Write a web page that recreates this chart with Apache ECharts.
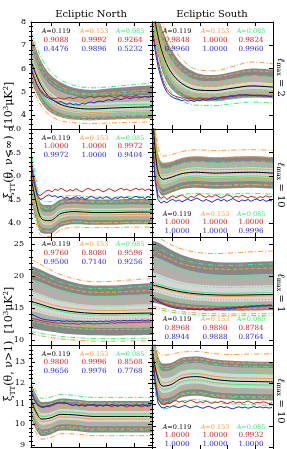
<!DOCTYPE html>
<html><head><meta charset="utf-8">
<script src="https://cdn.jsdelivr.net/npm/echarts@6/dist/echarts.min.js"></script>
<style>html,body{margin:0;padding:0;background:#fff}#c{width:287px;height:449px}</style>
</head><body><div id="c"></div>
<script>
// x sample positions (angular coordinate, arbitrary units across each panel)
const xs = [0, 5, 11, 19, 30, 45, 62, 80, 100, 121];
const xn = [0,3,6,9,12,15,18,21,24,27,30,33,36,39,42,45,48,51,54,57,60,63,66,69,72,75,78,81,84,87,90,93,96,99,102,105,108,111,114,117,120];
const xTickVals = [20, 48, 75, 103];

// y tick labels per row
const yTicks1 = [4, 5, 6, 7, 8];
const yTicks2 = [4.0, 4.5, 5.0, 5.5, 6.0];
const yTicks3 = [10, 15, 20, 25];
const yTicks4 = [9, 10, 11, 12, 13];

const aLabels = ['A=0.119', 'A=0.153', 'A=0.085'];

// ---- Row 1 : nu<inf, lmax=2 ----
// rows: +3s, +2s, +1s, mean, -1s, -2s, -3s
const n1Gray = [
 [7.45, 6.85, 6.25, 5.75, 5.4, 5.15, 5.08, 5.15, 5.22, 5.28],
 [6.95, 6.35, 5.75, 5.3, 5.0, 4.82, 4.76, 4.8, 4.84, 4.87],
 [6.6, 6.02, 5.45, 5.0, 4.7, 4.55, 4.5, 4.54, 4.57, 4.6],
 [6.3, 5.75, 5.2, 4.75, 4.45, 4.3, 4.26, 4.3, 4.33, 4.35],
 [6.0, 5.48, 4.95, 4.52, 4.24, 4.1, 4.07, 4.1, 4.13, 4.15],
 [5.75, 5.25, 4.75, 4.35, 4.08, 3.96, 3.93, 3.96, 3.99, 4.0],
 [5.45, 4.98, 4.5, 4.13, 3.9, 3.8, 3.78, 3.81, 3.84, 3.86]];
const n1Orange = [
 [7.3, 6.7, 6.1, 5.6, 5.22, 4.98, 4.92, 4.97, 5.03, 5.08],
 [6.8, 6.2, 5.6, 5.14, 4.84, 4.66, 4.6, 4.64, 4.68, 4.7],
 [6.45, 5.88, 5.3, 4.85, 4.55, 4.4, 4.35, 4.38, 4.41, 4.43],
 [6.15, 5.6, 5.05, 4.6, 4.3, 4.15, 4.11, 4.14, 4.17, 4.19],
 [5.85, 5.33, 4.8, 4.38, 4.1, 3.96, 3.93, 3.96, 3.98, 4.0],
 [5.6, 5.1, 4.6, 4.2, 3.94, 3.82, 3.8, 3.82, 3.85, 3.86],
 [5.3, 4.82, 4.35, 3.98, 3.75, 3.66, 3.64, 3.66, 3.68, 3.7]];
const n1Green = [
 [7.6, 7.0, 6.4, 5.9, 5.5, 5.25, 5.17, 5.22, 5.3, 5.38],
 [7.1, 6.5, 5.9, 5.42, 5.1, 4.92, 4.86, 4.9, 4.95, 4.98],
 [6.75, 6.17, 5.58, 5.12, 4.82, 4.66, 4.62, 4.65, 4.68, 4.7],
 [6.45, 5.88, 5.32, 4.88, 4.58, 4.42, 4.38, 4.42, 4.45, 4.47],
 [6.15, 5.6, 5.07, 4.64, 4.36, 4.22, 4.19, 4.22, 4.25, 4.27],
 [5.9, 5.38, 4.87, 4.47, 4.2, 4.07, 4.04, 4.07, 4.1, 4.12],
 [5.6, 5.1, 4.62, 4.25, 4.02, 3.91, 3.89, 3.92, 3.95, 3.97]];
const n1Red = [5.95,5.6,5.3,5.1,4.95,4.85,4.78,4.72,4.7,4.74,4.71,4.68,4.73,4.76,4.7,4.74,4.79,4.75,4.72,4.77,4.8,4.74,4.78,4.82,4.76,4.79,4.83,4.78,4.74,4.8,4.84,4.79,4.82,4.77,4.8,4.85,4.8,4.76,4.81,4.79,4.82];
const n1Blue = [6.07,5.65,5.3,5.05,4.88,4.78,4.72,4.66,4.6,4.55,4.58,4.5,4.46,4.52,4.45,4.48,4.43,4.5,4.47,4.53,4.56,4.52,4.58,4.6,4.57,4.63,4.66,4.62,4.68,4.7,4.66,4.72,4.75,4.7,4.74,4.78,4.73,4.77,4.8,4.76,4.79];
const n1RedTxt = ['0.9088', '0.9992', '0.9264'];
const n1BlueTxt = ['0.4476', '0.9896', '0.5232'];

const s1Gray = [
 [9.6, 8.5, 7.6, 6.85, 6.2, 5.8, 5.72, 5.85, 6.0, 5.95],
 [9.3, 8.1, 7.15, 6.4, 5.85, 5.5, 5.45, 5.56, 5.68, 5.63],
 [9.1, 7.85, 6.85, 6.1, 5.58, 5.28, 5.24, 5.35, 5.45, 5.4],
 [8.9, 7.6, 6.6, 5.85, 5.35, 5.08, 5.05, 5.15, 5.25, 5.2],
 [8.7, 7.35, 6.35, 5.6, 5.14, 4.9, 4.88, 4.97, 5.07, 5.02],
 [8.5, 7.1, 6.1, 5.4, 4.97, 4.76, 4.75, 4.84, 4.92, 4.88],
 [8.2, 6.8, 5.8, 5.15, 4.78, 4.6, 4.6, 4.68, 4.75, 4.72]];
const s1Orange = [
 [9.9, 8.8, 7.9, 7.1, 6.4, 5.95, 5.9, 6.08, 6.28, 6.2],
 [9.5, 8.35, 7.4, 6.6, 6.02, 5.66, 5.62, 5.76, 5.9, 5.85],
 [9.3, 8.05, 7.05, 6.3, 5.78, 5.46, 5.43, 5.55, 5.67, 5.62],
 [9.1, 7.8, 6.8, 6.05, 5.55, 5.27, 5.24, 5.35, 5.45, 5.4],
 [8.9, 7.55, 6.55, 5.8, 5.33, 5.08, 5.06, 5.16, 5.26, 5.2],
 [8.7, 7.3, 6.3, 5.58, 5.14, 4.92, 4.9, 5.0, 5.09, 5.04],
 [8.4, 7.0, 6.0, 5.33, 4.94, 4.75, 4.74, 4.83, 4.92, 4.87]];
const s1Green = [
 [9.3, 8.2, 7.25, 6.5, 5.9, 5.5, 5.43, 5.55, 5.7, 5.65],
 [9.0, 7.85, 6.9, 6.15, 5.62, 5.28, 5.22, 5.33, 5.45, 5.4],
 [8.85, 7.6, 6.62, 5.9, 5.4, 5.1, 5.06, 5.16, 5.26, 5.21],
 [8.7, 7.4, 6.4, 5.68, 5.2, 4.93, 4.9, 5.0, 5.1, 5.05],
 [8.5, 7.18, 6.18, 5.46, 5.0, 4.77, 4.75, 4.84, 4.93, 4.88],
 [8.3, 6.95, 5.95, 5.25, 4.83, 4.62, 4.61, 4.7, 4.78, 4.74],
 [8.0, 6.65, 5.65, 5.0, 4.6, 4.42, 4.4, 4.48, 4.56, 4.52]];
const s1Red = [7.9,7.0,6.3,5.75,5.35,5.1,4.95,4.85,4.8,4.76,4.72,4.75,4.7,4.73,4.68,4.71,4.74,4.7,4.72,4.69,4.74,4.77,4.73,4.78,4.8,4.77,4.82,4.85,4.81,4.86,4.88,4.84,4.87,4.85,4.83,4.86,4.82,4.85,4.83,4.8,4.82];
const s1Blue = [7.7,6.8,6.1,5.6,5.22,4.98,4.84,4.75,4.7,4.66,4.62,4.66,4.6,4.63,4.58,4.64,4.61,4.67,4.63,4.66,4.7,4.67,4.72,4.75,4.73,4.79,4.82,4.8,4.84,4.87,4.85,4.88,4.86,4.83,4.85,4.82,4.84,4.81,4.83,4.8,4.79];
const s1RedTxt = ['0.9848', '1.0000', '0.9824'];
const s1BlueTxt = ['0.9960', '1.0000', '0.9960'];

// ---- Row 2 : nu<inf, lmax=10 ----
const n2Gray = [
 [5.5, 4.85, 4.4, 4.38, 4.5, 4.53, 4.5, 4.5, 4.51, 4.51],
 [5.3, 4.68, 4.26, 4.23, 4.38, 4.41, 4.39, 4.39, 4.4, 4.4],
 [5.15, 4.56, 4.17, 4.14, 4.29, 4.32, 4.3, 4.3, 4.31, 4.31],
 [5.0, 4.45, 4.08, 4.05, 4.2, 4.24, 4.22, 4.22, 4.23, 4.23],
 [4.85, 4.34, 3.99, 3.96, 4.11, 4.16, 4.14, 4.14, 4.15, 4.15],
 [4.7, 4.23, 3.9, 3.88, 4.03, 4.08, 4.06, 4.06, 4.07, 4.07],
 [4.5, 4.08, 3.78, 3.77, 3.92, 3.97, 3.96, 3.96, 3.97, 3.97]];
const n2Orange = [
 [5.4, 4.78, 4.35, 4.33, 4.45, 4.48, 4.46, 4.46, 4.47, 4.47],
 [5.22, 4.62, 4.2, 4.18, 4.32, 4.35, 4.33, 4.33, 4.34, 4.34],
 [5.08, 4.5, 4.11, 4.09, 4.23, 4.27, 4.25, 4.25, 4.26, 4.26],
 [4.95, 4.4, 4.03, 4.0, 4.15, 4.19, 4.17, 4.17, 4.18, 4.18],
 [4.8, 4.29, 3.94, 3.92, 4.07, 4.11, 4.09, 4.09, 4.1, 4.1],
 [4.65, 4.18, 3.85, 3.83, 3.98, 4.03, 4.01, 4.01, 4.02, 4.02],
 [4.42, 4.0, 3.72, 3.71, 3.86, 3.91, 3.9, 3.9, 3.91, 3.91]];
const n2Green = [
 [5.6, 4.93, 4.47, 4.45, 4.57, 4.58, 4.55, 4.55, 4.56, 4.56],
 [5.38, 4.75, 4.32, 4.3, 4.43, 4.46, 4.44, 4.44, 4.45, 4.45],
 [5.22, 4.62, 4.22, 4.2, 4.34, 4.37, 4.35, 4.35, 4.36, 4.36],
 [5.05, 4.5, 4.13, 4.1, 4.25, 4.28, 4.26, 4.26, 4.27, 4.27],
 [4.9, 4.39, 4.04, 4.02, 4.16, 4.2, 4.18, 4.18, 4.19, 4.19],
 [4.75, 4.28, 3.95, 3.93, 4.08, 4.12, 4.1, 4.1, 4.11, 4.11],
 [4.55, 4.13, 3.83, 3.82, 3.97, 4.02, 4.0, 4.0, 4.01, 4.01]];
const n2Red = [5.2,4.85,4.62,4.58,4.63,4.68,4.7,4.66,4.72,4.69,4.74,4.7,4.67,4.71,4.68,4.73,4.69,4.66,4.7,4.74,4.71,4.68,4.72,4.7,4.66,4.69,4.73,4.7,4.67,4.71,4.74,4.7,4.72,4.68,4.71,4.74,4.7,4.73,4.69,4.72,4.71];
const n2Blue = [5.3,4.9,4.6,4.5,4.52,4.57,4.6,4.56,4.58,4.54,4.57,4.52,4.55,4.5,4.54,4.56,4.52,4.55,4.5,4.53,4.57,4.54,4.51,4.55,4.52,4.56,4.53,4.5,4.54,4.52,4.56,4.53,4.55,4.51,4.54,4.57,4.53,4.55,4.52,4.56,4.54];
const n2RedTxt = ['1.0000', '1.0000', '0.9972'];
const n2BlueTxt = ['0.9972', '1.0000', '0.9404'];

const s2Gray = [
 [7.0, 5.6, 5.28, 5.3, 5.38, 5.42, 5.4, 5.41, 5.42, 5.4],
 [6.85, 5.45, 5.15, 5.18, 5.26, 5.3, 5.28, 5.29, 5.3, 5.28],
 [6.72, 5.32, 5.04, 5.07, 5.15, 5.19, 5.17, 5.18, 5.19, 5.17],
 [6.6, 5.2, 4.93, 4.97, 5.05, 5.08, 5.06, 5.07, 5.08, 5.06],
 [6.48, 5.08, 4.82, 4.87, 4.95, 4.98, 4.96, 4.97, 4.98, 4.96],
 [6.35, 4.97, 4.72, 4.78, 4.86, 4.89, 4.87, 4.88, 4.89, 4.87],
 [6.2, 4.82, 4.58, 4.64, 4.72, 4.75, 4.73, 4.74, 4.75, 4.73]];
const s2Orange = [
 [7.1, 5.72, 5.42, 5.45, 5.52, 5.56, 5.54, 5.55, 5.56, 5.54],
 [6.95, 5.55, 5.26, 5.29, 5.37, 5.41, 5.39, 5.4, 5.41, 5.39],
 [6.8, 5.4, 5.12, 5.16, 5.24, 5.28, 5.26, 5.27, 5.28, 5.26],
 [6.67, 5.27, 5.0, 5.04, 5.12, 5.15, 5.13, 5.14, 5.15, 5.13],
 [6.55, 5.15, 4.89, 4.94, 5.02, 5.05, 5.03, 5.04, 5.05, 5.03],
 [6.42, 5.03, 4.78, 4.83, 4.91, 4.95, 4.93, 4.94, 4.95, 4.93],
 [6.25, 4.88, 4.64, 4.7, 4.78, 4.82, 4.8, 4.81, 4.82, 4.8]];
const s2Green = [
 [6.85, 5.48, 5.16, 5.19, 5.27, 5.31, 5.29, 5.3, 5.31, 5.29],
 [6.72, 5.34, 5.04, 5.08, 5.16, 5.2, 5.18, 5.19, 5.2, 5.18],
 [6.6, 5.22, 4.94, 4.98, 5.06, 5.1, 5.08, 5.09, 5.1, 5.08],
 [6.5, 5.12, 4.85, 4.9, 4.97, 5.0, 4.98, 4.99, 5.0, 4.98],
 [6.38, 5.0, 4.75, 4.8, 4.88, 4.91, 4.89, 4.9, 4.91, 4.89],
 [6.25, 4.88, 4.64, 4.7, 4.78, 4.81, 4.79, 4.8, 4.81, 4.79],
 [6.05, 4.68, 4.47, 4.53, 4.6, 4.63, 4.61, 4.62, 4.63, 4.61]];
const s2Red = [6.1,5.0,4.6,4.52,4.56,4.5,4.55,4.58,4.53,4.57,4.6,4.55,4.52,4.57,4.54,4.59,4.62,4.57,4.54,4.58,4.55,4.6,4.57,4.53,4.56,4.6,4.58,4.54,4.57,4.55,4.59,4.56,4.53,4.57,4.55,4.52,4.56,4.54,4.58,4.55,4.57];
const s2Blue = [6.0,4.9,4.5,4.42,4.46,4.43,4.48,4.5,4.46,4.49,4.45,4.48,4.51,4.47,4.5,4.53,4.49,4.46,4.5,4.47,4.44,4.48,4.51,4.47,4.5,4.46,4.49,4.52,4.48,4.45,4.49,4.47,4.5,4.46,4.49,4.51,4.47,4.5,4.46,4.48,4.47];
const s2RedTxt = ['1.0000', '1.0000', '1.0000'];
const s2BlueTxt = ['1.0000', '1.0000', '0.9996'];

// ---- Row 3 : nu>1, lmax=1 ----
const n3Gray = [
 [21.6, 21.3, 20.9, 20.3, 19.6, 18.9, 18.5, 18.5, 18.7, 18.9],
 [19.5, 19.3, 18.95, 18.45, 17.85, 17.25, 16.9, 16.9, 17.05, 17.2],
 [17.6, 17.4, 17.1, 16.65, 16.15, 15.7, 15.45, 15.4, 15.5, 15.6],
 [16.0, 15.8, 15.5, 15.1, 14.7, 14.35, 14.15, 14.1, 14.15, 14.2],
 [14.5, 14.35, 14.1, 13.8, 13.45, 13.15, 13.0, 12.95, 13.0, 13.05],
 [13.2, 13.05, 12.85, 12.6, 12.3, 12.05, 11.9, 11.87, 11.9, 11.95],
 [11.8, 11.7, 11.5, 11.3, 11.05, 10.85, 10.72, 10.7, 10.73, 10.77]];
const n3Orange = [
 [22.6, 22.2, 21.7, 21.0, 20.2, 19.5, 19.1, 19.15, 19.4, 19.6],
 [20.3, 20.0, 19.6, 19.05, 18.4, 17.8, 17.45, 17.45, 17.6, 17.75],
 [18.2, 18.0, 17.7, 17.25, 16.7, 16.2, 15.95, 15.9, 16.0, 16.1],
 [16.5, 16.3, 16.0, 15.6, 15.2, 14.85, 14.65, 14.6, 14.65, 14.7],
 [14.8, 14.65, 14.4, 14.1, 13.75, 13.45, 13.3, 13.25, 13.3, 13.35],
 [13.3, 13.15, 12.95, 12.7, 12.4, 12.15, 12.0, 11.97, 12.0, 12.05],
 [10.9, 10.8, 10.6, 10.4, 10.15, 9.95, 9.82, 9.8, 9.83, 9.87]];
const n3Green = [
 [21.0, 20.7, 20.3, 19.7, 19.0, 18.4, 18.05, 18.05, 18.25, 18.45],
 [19.2, 19.0, 18.65, 18.15, 17.6, 17.05, 16.75, 16.75, 16.9, 17.05],
 [17.4, 17.2, 16.9, 16.5, 16.0, 15.55, 15.3, 15.25, 15.35, 15.45],
 [15.7, 15.5, 15.2, 14.85, 14.45, 14.1, 13.9, 13.85, 13.9, 13.95],
 [14.2, 14.05, 13.8, 13.5, 13.2, 12.9, 12.75, 12.7, 12.75, 12.8],
 [12.9, 12.75, 12.55, 12.3, 12.05, 11.8, 11.65, 11.62, 11.65, 11.7],
 [11.3, 11.2, 11.0, 10.8, 10.55, 10.35, 10.22, 10.2, 10.23, 10.27]];
const n3Red = [13.4,13.3,13.2,13.05,12.95,12.85,12.8,12.72,12.68,12.6,12.65,12.55,12.6,12.5,12.58,12.52,12.45,12.55,12.5,12.6,12.52,12.48,12.56,12.5,12.62,12.55,12.6,12.68,12.6,12.7,12.65,12.72,12.66,12.75,12.7,12.78,12.72,12.8,12.76,12.82,12.78];
const n3Blue = [14.0,13.85,13.6,13.4,13.25,13.15,13.1,13.02,12.98,13.05,12.95,12.9,12.98,12.88,12.95,12.85,12.92,12.86,12.8,12.9,12.84,12.92,12.86,12.95,12.88,12.96,12.9,13.0,12.94,13.02,12.96,13.05,12.98,13.06,13.0,13.08,13.02,13.1,13.04,13.1,13.06];
const n3RedTxt = ['0.9760', '0.8080', '0.9596'];
const n3BlueTxt = ['0.9500', '0.7140', '0.9256'];

const s3Gray = [
 [25.6, 25.3, 24.8, 24.1, 23.3, 22.6, 22.2, 22.1, 22.2, 22.3],
 [23.2, 22.9, 22.5, 21.9, 21.2, 20.6, 20.25, 20.15, 20.25, 20.35],
 [20.6, 20.35, 20.0, 19.55, 19.05, 18.7, 18.5, 18.45, 18.5, 18.6],
 [18.6, 18.45, 18.2, 17.85, 17.5, 17.2, 17.05, 17.0, 17.05, 17.1],
 [17.6, 17.4, 17.15, 16.8, 16.45, 16.15, 16.0, 15.95, 16.0, 16.05],
 [16.8, 16.6, 16.35, 16.05, 15.75, 15.5, 15.35, 15.3, 15.35, 15.4],
 [15.9, 15.7, 15.5, 15.2, 14.95, 14.7, 14.58, 14.55, 14.58, 14.62]];
const s3Orange = [
 [26.5, 26.2, 25.6, 24.9, 24.2, 23.7, 23.5, 23.6, 23.8, 23.9],
 [23.9, 23.6, 23.2, 22.6, 21.9, 21.4, 21.1, 21.05, 21.15, 21.25],
 [21.3, 21.05, 20.7, 20.25, 19.75, 19.35, 19.1, 19.05, 19.1, 19.2],
 [18.4, 18.25, 18.0, 17.65, 17.3, 17.0, 16.85, 16.8, 16.85, 16.9],
 [17.3, 17.1, 16.85, 16.5, 16.15, 15.85, 15.7, 15.65, 15.7, 15.75],
 [16.4, 16.2, 15.95, 15.65, 15.35, 15.1, 14.95, 14.9, 14.95, 15.0],
 [15.3, 15.1, 14.9, 14.65, 14.4, 14.2, 14.1, 14.07, 14.1, 14.15]];
const s3Green = [
 [24.8, 24.5, 24.0, 23.3, 22.6, 22.0, 21.7, 21.65, 21.8, 21.9],
 [22.6, 22.3, 21.9, 21.35, 20.75, 20.2, 19.9, 19.85, 19.95, 20.05],
 [20.3, 20.05, 19.7, 19.25, 18.8, 18.45, 18.25, 18.2, 18.25, 18.35],
 [18.9, 18.75, 18.5, 18.15, 17.8, 17.5, 17.35, 17.3, 17.35, 17.4],
 [17.9, 17.7, 17.45, 17.1, 16.75, 16.45, 16.3, 16.25, 16.3, 16.35],
 [17.0, 16.8, 16.55, 16.25, 15.95, 15.7, 15.55, 15.5, 15.55, 15.6],
 [15.0, 14.8, 14.6, 14.35, 14.1, 13.9, 13.8, 13.78, 13.8, 13.85]];
const s3Red = [16.8,16.5,16.2,15.95,15.7,15.5,15.35,15.2,15.1,15.05,14.95,15.0,14.9,14.95,14.85,14.9,14.82,14.9,14.8,14.88,14.84,14.92,14.88,14.98,14.94,15.05,15.0,15.12,15.08,15.2,15.16,15.28,15.24,15.35,15.3,15.4,15.36,15.45,15.4,15.48,15.44];
const s3Blue = [16.6,16.3,16.0,15.75,15.5,15.32,15.18,15.05,14.95,14.88,14.8,14.85,14.75,14.8,14.7,14.76,14.68,14.75,14.66,14.72,14.7,14.78,14.74,14.84,14.8,14.9,14.86,14.98,14.95,15.06,15.03,15.15,15.12,15.22,15.2,15.3,15.27,15.35,15.32,15.4,15.37];
const s3RedTxt = ['0.8968', '0.9880', '0.8784'];
const s3BlueTxt = ['0.8944', '0.9888', '0.8764'];

// ---- Row 4 : nu>1, lmax=10 ----
const n4Gray = [
 [12.05, 11.45, 11.08, 11.1, 11.25, 11.2, 11.12, 11.12, 11.12, 11.12],
 [11.75, 11.15, 10.8, 10.83, 11.0, 10.96, 10.89, 10.89, 10.89, 10.89],
 [11.48, 10.88, 10.53, 10.57, 10.74, 10.71, 10.64, 10.64, 10.64, 10.64],
 [11.2, 10.6, 10.25, 10.3, 10.48, 10.45, 10.38, 10.38, 10.38, 10.38],
 [10.9, 10.32, 9.98, 10.03, 10.22, 10.2, 10.12, 10.12, 10.12, 10.12],
 [10.65, 10.08, 9.75, 9.8, 10.0, 9.98, 9.9, 9.9, 9.9, 9.9],
 [10.3, 9.75, 9.43, 9.5, 9.7, 9.68, 9.6, 9.6, 9.6, 9.6]];
const n4Orange = [
 [11.9, 11.3, 10.93, 10.96, 11.12, 11.08, 11.0, 11.0, 11.0, 11.0],
 [11.62, 11.02, 10.67, 10.7, 10.87, 10.83, 10.76, 10.76, 10.76, 10.76],
 [11.35, 10.75, 10.41, 10.45, 10.62, 10.59, 10.52, 10.52, 10.52, 10.52],
 [11.08, 10.48, 10.13, 10.18, 10.36, 10.33, 10.26, 10.26, 10.26, 10.26],
 [10.8, 10.22, 9.88, 9.93, 10.12, 10.09, 10.02, 10.02, 10.02, 10.02],
 [10.52, 9.96, 9.63, 9.69, 9.88, 9.86, 9.78, 9.78, 9.78, 9.78],
 [10.15, 9.6, 9.28, 9.35, 9.55, 9.53, 9.45, 9.45, 9.45, 9.45]];
const n4Green = [
 [12.2, 11.6, 11.25, 11.3, 11.45, 11.38, 11.3, 11.3, 11.3, 11.3],
 [11.88, 11.28, 10.93, 10.97, 11.14, 11.1, 11.02, 11.02, 11.02, 11.02],
 [11.6, 11.0, 10.66, 10.7, 10.88, 10.84, 10.76, 10.76, 10.76, 10.76],
 [11.3, 10.72, 10.37, 10.42, 10.6, 10.57, 10.49, 10.49, 10.49, 10.49],
 [11.02, 10.45, 10.11, 10.16, 10.35, 10.32, 10.24, 10.24, 10.24, 10.24],
 [10.75, 10.2, 9.87, 9.92, 10.12, 10.1, 10.02, 10.02, 10.02, 10.02],
 [10.42, 9.88, 9.56, 9.62, 9.82, 9.8, 9.72, 9.72, 9.72, 9.72]];
const n4Red = [11.6,11.2,10.95,10.85,10.8,10.88,10.84,10.92,10.98,11.02,11.05,10.98,11.03,10.95,10.9,10.96,10.88,10.93,10.86,10.92,10.97,10.9,10.85,10.93,10.88,10.95,10.9,10.84,10.92,10.87,10.94,10.88,10.83,10.9,10.86,10.93,10.88,10.84,10.9,10.87,10.92];
const n4Blue = [11.65,11.25,10.98,10.88,10.83,10.86,10.9,10.95,11.0,11.05,11.02,11.06,11.0,10.96,10.92,10.95,10.9,10.94,10.89,10.95,10.91,10.96,10.9,10.94,10.88,10.93,10.9,10.95,10.91,10.88,10.93,10.9,10.95,10.91,10.88,10.93,10.9,10.95,10.92,10.89,10.93];
const n4RedTxt = ['0.9800', '0.9996', '0.8508'];
const n4BlueTxt = ['0.9656', '0.9976', '0.7768'];

const s4Gray = [
 [14.6, 13.5, 12.95, 12.98, 13.22, 13.28, 13.15, 13.08, 13.05, 13.03],
 [14.3, 13.1, 12.6, 12.65, 12.92, 12.98, 12.86, 12.79, 12.76, 12.74],
 [14.0, 12.75, 12.25, 12.31, 12.6, 12.67, 12.54, 12.47, 12.45, 12.43],
 [13.7, 12.4, 11.88, 11.95, 12.25, 12.33, 12.2, 12.12, 12.1, 12.08],
 [13.4, 12.05, 11.55, 11.62, 11.92, 12.0, 11.87, 11.8, 11.78, 11.76],
 [13.1, 11.75, 11.28, 11.36, 11.65, 11.73, 11.6, 11.53, 11.51, 11.49],
 [12.75, 11.42, 10.98, 11.07, 11.35, 11.43, 11.31, 11.24, 11.22, 11.2]];
const s4Orange = [
 [15.0, 13.6, 13.35, 13.38, 13.5, 13.52, 13.42, 13.38, 13.4, 13.42],
 [14.55, 13.3, 12.8, 12.85, 13.12, 13.18, 13.05, 12.98, 12.96, 12.94],
 [14.2, 12.95, 12.45, 12.5, 12.78, 12.85, 12.72, 12.65, 12.63, 12.61],
 [13.85, 12.55, 12.04, 12.1, 12.4, 12.48, 12.35, 12.28, 12.26, 12.24],
 [13.5, 12.17, 11.67, 11.74, 12.04, 12.12, 11.99, 11.92, 11.9, 11.88],
 [13.2, 11.87, 11.38, 11.46, 11.76, 11.84, 11.71, 11.64, 11.62, 11.6],
 [12.85, 11.55, 11.08, 11.16, 11.46, 11.54, 11.41, 11.34, 11.32, 11.3]];
const s4Green = [
 [14.4, 13.2, 12.7, 12.74, 12.98, 13.04, 12.92, 12.85, 12.82, 12.8],
 [14.1, 12.85, 12.36, 12.41, 12.68, 12.75, 12.62, 12.55, 12.53, 12.51],
 [13.8, 12.52, 12.03, 12.09, 12.37, 12.44, 12.31, 12.24, 12.22, 12.2],
 [13.55, 12.25, 11.73, 11.8, 12.1, 12.18, 12.05, 11.97, 11.95, 11.93],
 [13.25, 11.92, 11.42, 11.5, 11.8, 11.88, 11.75, 11.68, 11.66, 11.64],
 [12.95, 11.62, 11.14, 11.22, 11.52, 11.6, 11.47, 11.4, 11.38, 11.36],
 [12.55, 11.25, 10.8, 10.88, 11.16, 11.24, 11.11, 11.04, 11.0, 10.95]];
const s4Red = [13.6,12.3,11.3,11.05,11.0,11.1,11.05,11.15,11.2,11.12,11.18,11.1,11.16,11.22,11.14,11.08,11.15,11.1,11.18,11.12,11.06,11.14,11.1,11.17,11.12,11.05,11.1,11.16,11.08,11.13,11.07,11.12,11.18,11.1,11.06,11.12,11.08,11.14,11.1,11.05,11.1];
const s4Blue = [13.4,12.1,11.1,10.88,10.85,10.92,10.88,10.95,10.9,10.86,10.92,10.97,10.9,10.85,10.9,10.94,10.87,10.83,10.89,10.93,10.86,10.82,10.88,10.92,10.86,10.9,10.84,10.8,10.86,10.9,10.85,10.89,10.83,10.87,10.91,10.86,10.9,10.85,10.88,10.84,10.87];
const s4RedTxt = ['1.0000', '1.0000', '0.9932'];
const s4BlueTxt = ['1.0000', '1.0000', '1.0000'];

// ---------------- layout & styling ----------------
const FONT = 'DejaVu Serif';
const ORANGE = '#ff9a40', GREEN = '#3fee7c', RED = '#c42a2a', BLUE = '#2a2ec0';
// fill painted downward from each gray boundary, top boundary first
const fillOrder = [0, 1, 2, 4, 5, 6];
const fillColors = ['#878787', '#b0b0b0', '#d6d6d6', '#b0b0b0', '#878787', '#ffffff'];
const dashTypes = [[5,2,1,2], [4,2], [1,2], 'solid', [1,2], [4,2], [5,2,1,2]];

const colLeft = [31, 152], colW = 121;
const rowTop = [22, 129, 237, 345], rowH = [107, 108, 108, 108];
function minors(min, max, step, majorStep) {
  const out = [];
  for (let k = Math.ceil(min / step - 1e-9); k * step <= max + 1e-9; k++) {
    const v = +(k * step).toFixed(4);
    const r = v / majorStep;
    if (Math.abs(r - Math.round(r)) > 1e-6) out.push(v);
  }
  return out;
}
const rows = [
  {min: 3.4, max: 8, major: yTicks1, minor: minors(3.4, 8, 0.2, 1), fmt: v => String(v), margin: 5},
  {min: 3.7, max: 6.0, major: yTicks2, minor: minors(3.7, 6.0, 0.1, 0.5), fmt: v => (+v).toFixed(1), margin: 10},
  {min: 9.2, max: 26.1, major: yTicks3, minor: minors(9.2, 26.1, 1, 5), fmt: v => String(v), margin: 7},
  {min: 8.9, max: 13.83, major: yTicks4, minor: minors(8.9, 13.83, 0.2, 1), fmt: v => String(v), margin: 6}
];
const panels = [
  {g: n1Gray, o: n1Orange, gr: n1Green, r: n1Red, b: n1Blue, rt: n1RedTxt, bt: n1BlueTxt, ty: [31.5, 40.5, 49]},
  {g: s1Gray, o: s1Orange, gr: s1Green, r: s1Red, b: s1Blue, rt: s1RedTxt, bt: s1BlueTxt, ty: [31.5, 40.5, 49]},
  {g: n2Gray, o: n2Orange, gr: n2Green, r: n2Red, b: n2Blue, rt: n2RedTxt, bt: n2BlueTxt, ty: [138, 146.5, 155]},
  {g: s2Gray, o: s2Orange, gr: s2Green, r: s2Red, b: s2Blue, rt: s2RedTxt, bt: s2BlueTxt, ty: [214, 222.5, 231]},
  {g: n3Gray, o: n3Orange, gr: n3Green, r: n3Red, b: n3Blue, rt: n3RedTxt, bt: n3BlueTxt, ty: [244, 253.5, 262.5]},
  {g: s3Gray, o: s3Orange, gr: s3Green, r: s3Red, b: s3Blue, rt: s3RedTxt, bt: s3BlueTxt, ty: [319, 328, 337]},
  {g: n4Gray, o: n4Orange, gr: n4Green, r: n4Red, b: n4Blue, rt: n4RedTxt, bt: n4BlueTxt, ty: [354, 362.5, 371]},
  {g: s4Gray, o: s4Orange, gr: s4Green, r: s4Red, b: s4Blue, rt: s4RedTxt, bt: s4BlueTxt, ty: [427, 435.5, 444]}
];

const grid = [], xAxis = [], yAxis = [], series = [], graphic = [];
const axLine = {show: true, onZero: false, lineStyle: {color: '#000', width: 1}};
panels.forEach((p, i) => {
  const row = Math.floor(i / 2), col = i % 2, R = rows[row];
  grid.push({left: colLeft[col], top: rowTop[row], width: colW, height: rowH[row], show: false});
  ['bottom', 'top'].forEach(pos => xAxis.push({
    gridIndex: i, type: 'value', min: 0, max: 121, position: pos, z: 10,
    axisLine: axLine, axisLabel: {show: false}, splitLine: {show: false},
    axisTick: {show: true, inside: true, length: 4, customValues: xTickVals, lineStyle: {color: '#000'}}
  }));
  yAxis.push({
    gridIndex: i, type: 'value', min: R.min, max: R.max, position: 'left', z: 10,
    axisLine: axLine, splitLine: {show: false},
    axisTick: {show: true, inside: true, length: 4, customValues: R.major, lineStyle: {color: '#000'}},
    axisLabel: {show: col === 0, customValues: R.major, formatter: R.fmt, fontFamily: FONT, fontSize: 8, color: '#000', margin: R.margin}
  });
  yAxis.push({
    gridIndex: i, type: 'value', min: R.min, max: R.max, position: 'right', z: 10,
    axisLine: axLine, splitLine: {show: false}, axisLabel: {show: false},
    axisTick: {show: true, inside: true, length: 4, customValues: R.major, lineStyle: {color: '#000'}}
  });
  ['left', 'right'].forEach(pos => yAxis.push({
    gridIndex: i, type: 'value', min: R.min, max: R.max, position: pos, z: 10,
    axisLine: {show: false}, splitLine: {show: false}, axisLabel: {show: false},
    axisTick: {show: true, inside: true, length: 2, customValues: R.minor, lineStyle: {color: '#000'}}
  }));
  const base = {type: 'line', xAxisIndex: 2 * i, yAxisIndex: 4 * i, symbol: 'none', silent: true, animation: false};
  // gray bands: each boundary filled down to the axis start, later ones painted over earlier ones
  fillOrder.forEach((k, f) => {
    series.push(Object.assign({}, base, {smooth: 0.35, data: xs.map((x, j) => [x, p.g[k][j]]),
      lineStyle: {width: 0, opacity: 0}, areaStyle: {color: fillColors[f], opacity: 1, origin: 'start'}}));
  });
  p.gr.forEach((arr, k) => series.push(Object.assign({}, base, {smooth: 0.35, data: xs.map((x, j) => [x, arr[j]]), lineStyle: {color: GREEN, width: 1, type: dashTypes[k]}})));
  p.o.forEach((arr, k) => series.push(Object.assign({}, base, {smooth: 0.35, data: xs.map((x, j) => [x, arr[j]]), lineStyle: {color: ORANGE, width: 1, type: dashTypes[k]}})));
  series.push(Object.assign({}, base, {smooth: 0.35, data: xs.map((x, j) => [x, p.g[3][j]]), lineStyle: {color: '#000', width: 1}}));
  series.push(Object.assign({}, base, {data: xn.map((x, j) => [x, p.r[j]]), lineStyle: {color: RED, width: 1}}));
  series.push(Object.assign({}, base, {data: xn.map((x, j) => [x, p.b[j]]), lineStyle: {color: BLUE, width: 1}}));
  // annotations
  const cx = [25, 63, 99].map(o => colLeft[col] + o);
  const aCol = ['#000', ORANGE, GREEN];
  cx.forEach((x, c) => {
    graphic.push({type: 'text', x: x, y: p.ty[0], z: 100, style: {
      text: '{i|A}{n|' + aLabels[c].slice(1) + '}', align: 'center', verticalAlign: 'middle',
      textAlign: 'center', textVerticalAlign: 'middle', fill: aCol[c],
      rich: {i: {fontStyle: 'italic', fontFamily: FONT, fontSize: 6.5, fill: aCol[c]}, n: {fontFamily: FONT, fontSize: 6.5, fill: aCol[c]}}}});
    graphic.push({type: 'text', x: x, y: p.ty[1], z: 100, style: {text: p.rt[c], align: 'center', verticalAlign: 'middle', textAlign: 'center', textVerticalAlign: 'middle', fill: RED, fontFamily: FONT, fontSize: 7.2}});
    graphic.push({type: 'text', x: x, y: p.ty[2], z: 100, style: {text: p.bt[c], align: 'center', verticalAlign: 'middle', textAlign: 'center', textVerticalAlign: 'middle', fill: BLUE, fontFamily: FONT, fontSize: 7.2}});
  });
});

// titles
graphic.push({type: 'text', x: 91, y: 14.5, style: {text: 'Ecliptic North', align: 'center', verticalAlign: 'middle', textAlign: 'center', textVerticalAlign: 'middle', fill: '#000', fontFamily: FONT, fontSize: 10}});
graphic.push({type: 'text', x: 212, y: 14.5, style: {text: 'Ecliptic South', align: 'center', verticalAlign: 'middle', textAlign: 'center', textVerticalAlign: 'middle', fill: '#000', fontFamily: FONT, fontSize: 10}});
// y-axis titles
const yRich = {n: {fontFamily: FONT, fontSize: 11, lineHeight: 14, fill: '#000'},
  s: {fontFamily: FONT, fontSize: 7, lineHeight: 7, verticalAlign: 'bottom', fill: '#000'},
  p: {fontFamily: FONT, fontSize: 7, lineHeight: 7, verticalAlign: 'top', fill: '#000'}};
const yTitles = [
  {text: '{n|ξ}{s|TT}{n|(θ, ν<∞)  [10}{p|3}{n|μK}{p|2}{n|]}', y: 140},
  {text: '{n|ξ}{s|TT}{n|(θ, ν>1)  [10}{p|3}{n|μK}{p|2}{n|]}', y: 344}
];
yTitles.forEach(t => graphic.push({type: 'text', x: 9.5, y: t.y, rotation: Math.PI / 2, style: {text: t.text, rich: yRich, align: 'center', verticalAlign: 'middle', textAlign: 'center', textVerticalAlign: 'middle', fill: '#000'}}));
// right-side lmax labels
const lmaxLabels = ['2', '10', '1', '10'];
const lRich = {i: {fontFamily: FONT, fontSize: 10, lineHeight: 12, fill: '#000', fontStyle: 'italic'},
  s: {fontFamily: FONT, fontSize: 6.5, lineHeight: 6.5, verticalAlign: 'bottom', fill: '#000'},
  n: {fontFamily: FONT, fontSize: 10, lineHeight: 12, fill: '#000'}};
lmaxLabels.forEach((l, r) => graphic.push({type: 'text', x: 281, y: rowTop[r] + rowH[r] / 2 + 2, rotation: -Math.PI / 2, style: {
  text: '{i|ℓ}{s|max}{n| = ' + l + '}', rich: lRich, align: 'center', verticalAlign: 'middle', textAlign: 'center', textVerticalAlign: 'middle', fill: '#000'}}));

const chart = echarts.init(document.getElementById('c'), null, {renderer: 'canvas', width: 287, height: 449});
chart.setOption({animation: false, backgroundColor: '#fff', grid, xAxis, yAxis, series, graphic});
</script>
</body></html>
